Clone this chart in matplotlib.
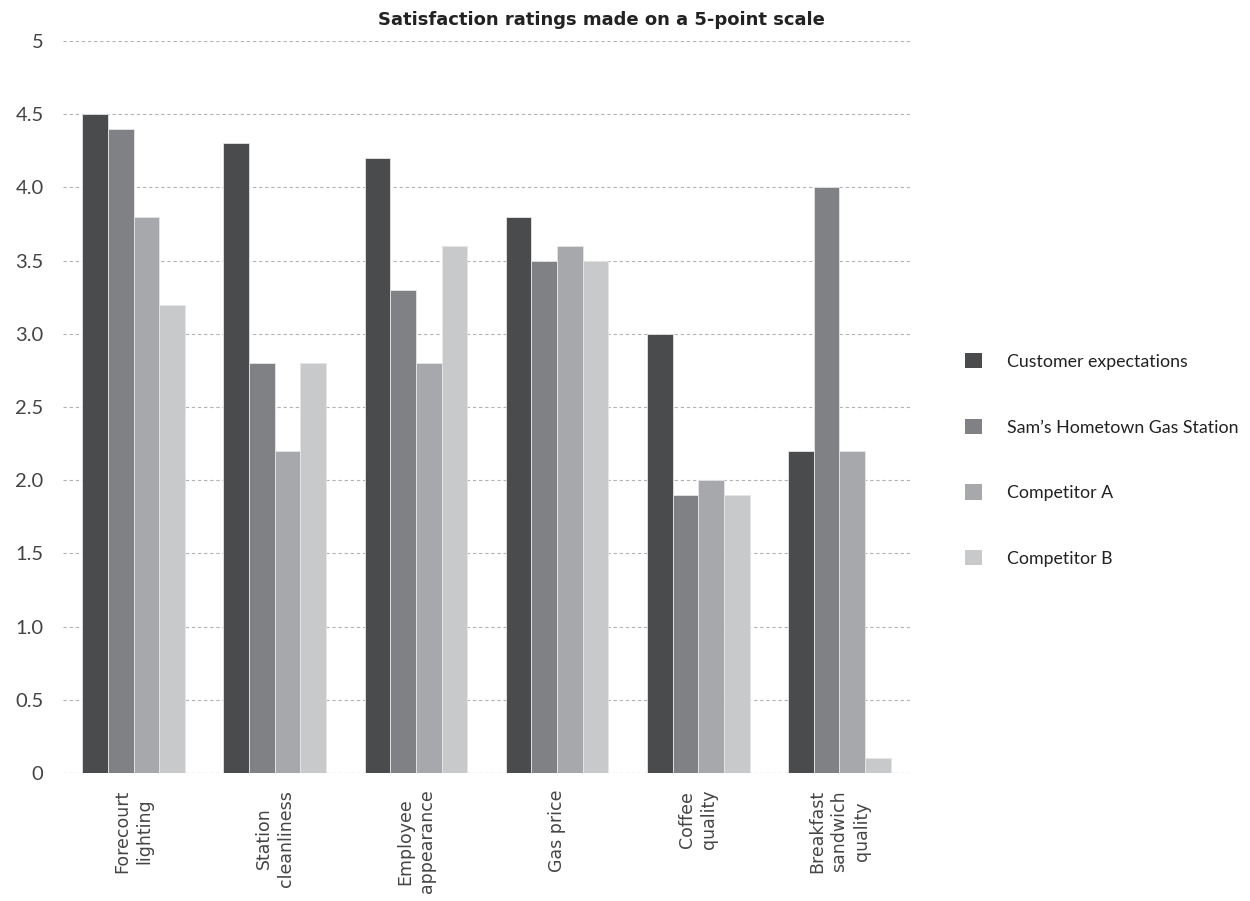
import numpy as np
import matplotlib
matplotlib.use("Agg")
import matplotlib.pyplot as plt
from matplotlib.patches import Patch

plt.rcParams["font.family"] = ["Lato", "DejaVu Sans"]

CATEGORIES = [
    "Forecourt\nlighting",
    "Station\ncleanliness",
    "Employee\nappearance",
    "Gas price",
    "Coffee\nquality",
    "Breakfast\nsandwich\nquality",
]
SERIES_NAMES = [
    "Customer expectations",
    "Sam\u2019s Hometown Gas Station",
    "Competitor A",
    "Competitor B",
]
expectations = [4.5, 4.3, 4.2, 3.8, 3.0, 2.2]
sams_station = [4.4, 2.8, 3.3, 3.5, 1.9, 4.0]
competitor_a = [3.8, 2.2, 2.8, 3.6, 2.0, 2.2]
competitor_b = [3.2, 2.8, 3.6, 3.5, 1.9, 0.1]

Y_TICKS = [0, 0.5, 1.0, 1.5, 2.0, 2.5, 3.0, 3.5, 4.0, 4.5, 5]
Y_TICK_LABELS = ["0", "0.5", "1.0", "1.5", "2.0", "2.5", "3.0", "3.5", "4.0", "4.5", "5"]

COLORS = ["#4a4b4d", "#808184", "#a7a8ab", "#c8c9cb"]

fig = plt.figure(figsize=(12.5, 9.01), dpi=100)
ax = fig.add_axes([63 / 1250, 1 - 773 / 901, (910 - 63) / 1250, (773 - 41) / 901])

x = np.arange(len(CATEGORIES))
bar_w = 0.182
all_series = [expectations, sams_station, competitor_a, competitor_b]
for i, (vals, c, name) in enumerate(zip(all_series, COLORS, SERIES_NAMES)):
    offs = (i - 1.5) * bar_w
    ax.bar(x + offs, vals, width=bar_w, color=c, edgecolor="#e6e6e6",
           linewidth=0.6, label=name, zorder=3)

ax.set_xlim(-0.5, 5.5)
ax.set_ylim(0, 5)
ax.set_yticks(Y_TICKS)
ax.set_yticklabels(Y_TICK_LABELS, fontsize=14.5, color="#444444")
ax.tick_params(axis="y", length=0, pad=14)

ax.set_xticks(x)
ax.set_xticklabels(CATEGORIES, rotation=90, fontsize=12.5, color="#444444",
                   ha="center", va="top", linespacing=1.3,
                   family=["DejaVu Sans"])
ax.tick_params(axis="x", length=0, pad=12)

ax.grid(axis="y", color="#b3b3b3", linestyle=(0, (3, 2.5)), linewidth=0.8, zorder=0)
ax.set_axisbelow(True)
for s in ax.spines.values():
    s.set_visible(False)
ax.axhline(0, color="#b3b3b3", linestyle=(0, (3, 2.5)), linewidth=0.8, zorder=1)

fig.text(601 / 1250, 1 - 20 / 901, "Satisfaction ratings made on a 5-point scale",
         ha="center", va="center", fontsize=13, fontweight="bold",
         family=["DejaVu Sans"], color="#222222")

handles = [Patch(facecolor=c, edgecolor="none") for c in COLORS]
fig.legend(handles, SERIES_NAMES, loc="center left",
           bbox_to_anchor=(965 / 1250, 1 - 460 / 901), frameon=False,
           borderpad=0, borderaxespad=0,
           fontsize=12.8, handlelength=0.95, handleheight=0.95,
           labelspacing=2.75, handletextpad=1.4, labelcolor="#222222")

fig.savefig("out.png", dpi=100)
